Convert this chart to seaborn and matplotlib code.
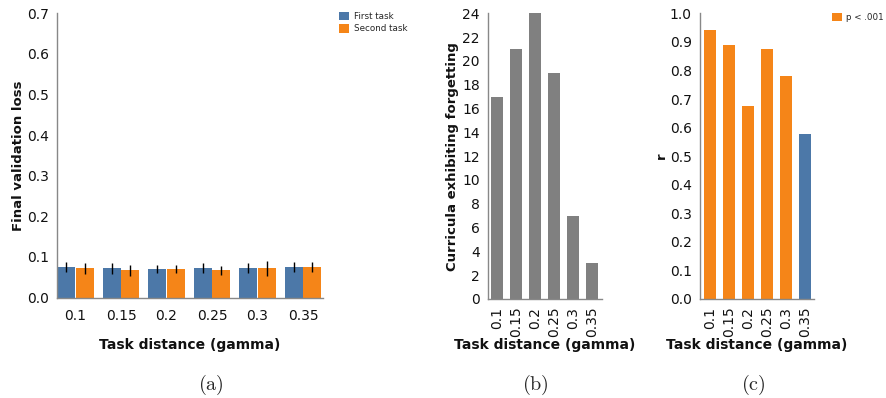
import numpy as np
import pandas as pd
import matplotlib
matplotlib.use("Agg")
import matplotlib.pyplot as plt
from matplotlib.patches import Patch
import seaborn as sns

# ---------------- data ----------------
gammas = ["0.1", "0.15", "0.2", "0.25", "0.3", "0.35"]
tasks = ["First task", "Second task"]
loss_first = [0.075, 0.072, 0.070, 0.072, 0.072, 0.075]
loss_second = [0.072, 0.067, 0.070, 0.067, 0.072, 0.075]
err_first = [0.013, 0.013, 0.009, 0.012, 0.012, 0.013]
err_second = [0.013, 0.014, 0.010, 0.011, 0.018, 0.013]
forgetting_counts = [17, 21, 24, 19, 7, 3]
r_values = [0.94, 0.89, 0.675, 0.875, 0.78, 0.578]
significance = ["p < .001", "p < .001", "p < .001", "p < .001", "p < .001", "n.s."]

BLUE = "#4c78a8"
ORANGE = "#f58518"
GRAY = "#808080"
AXC = "#888888"

sns.set_theme(style="white")
plt.rcParams["font.family"] = ["DejaVu Sans"]
plt.rcParams["mathtext.fontset"] = "cm"

W, H = 886, 398
fig = plt.figure(figsize=(W / 100, H / 100), dpi=100)


def fax(l, t, r, b):
    return fig.add_axes([l / W, 1 - b / H, (r - l) / W, (b - t) / H])


def style(ax):
    for s in ["top", "right"]:
        ax.spines[s].set_visible(False)
    for s in ["left", "bottom"]:
        ax.spines[s].set_color(AXC)
        ax.spines[s].set_linewidth(1.0)
    ax.tick_params(axis="y", length=4, width=1, color=AXC, pad=2, labelsize=10, labelcolor="#111111")
    ax.set_facecolor("white")


# ---------------- panel a ----------------
ax1 = fax(57, 13.3, 323, 297.5)
df_a = pd.DataFrame({
    "gamma": gammas * 2,
    "task": [tasks[0]] * 6 + [tasks[1]] * 6,
    "loss": loss_first + loss_second,
})
sns.barplot(data=df_a, x="gamma", y="loss", hue="task", order=gammas,
            hue_order=tasks, palette=[BLUE, ORANGE], saturation=1, width=0.82, gap=0.05,
            errorbar=None, ax=ax1, legend=False)
for cont, errs in zip(ax1.containers, [err_first, err_second]):
    for bar, e in zip(cont, errs):
        bar.set_edgecolor("none")
        xc = bar.get_x() + bar.get_width() / 2
        ax1.errorbar(xc, bar.get_height(), yerr=e, color="black", lw=1, capsize=0)
ax1.set_ylim(0, 0.7)
ax1.set_yticks(np.arange(0, 0.71, 0.1))
ax1.set_yticklabels([f"{v:.1f}" for v in np.arange(0, 0.71, 0.1)])
ax1.set_xlim(-0.407, 5.44)
style(ax1)
ax1.tick_params(axis="x", length=0, pad=8, labelsize=10, labelcolor="#111111")
ax1.set_ylabel("Final validation loss", fontsize=9.5, fontweight="bold", color="#111111")
ax1.yaxis.set_label_coords(-0.12, 0.5)
ax1.set_xlabel("Task distance (gamma)", fontsize=10, fontweight="bold", color="#111111", va="center")
ax1.xaxis.set_label_coords(0.5, -0.166)
handles = [Patch(facecolor=BLUE, edgecolor="none"), Patch(facecolor=ORANGE, edgecolor="none")]
fig.legend(handles, tasks, loc="upper left", bbox_to_anchor=(336 / W, 1 - 9 / H),
           frameon=False, fontsize=6.3, handlelength=1.15, handleheight=1.15,
           handletextpad=0.55, labelspacing=0.35, borderaxespad=0, borderpad=0.3)

# ---------------- panel b ----------------
ax2 = fax(488.3, 13.3, 601.7, 299)
df_b = pd.DataFrame({"gamma": gammas, "count": forgetting_counts})
sns.barplot(data=df_b, x="gamma", y="count", order=gammas, color=GRAY,
            saturation=1, width=0.63, ax=ax2)
for bar in ax2.patches:
    bar.set_edgecolor("none")
ax2.set_ylim(0, 24)
ax2.set_yticks(np.arange(0, 25, 2))
ax2.set_xlim(-0.46, 5.5)
style(ax2)
ax2.tick_params(axis="x", length=4, width=1, color=AXC, pad=1.5, labelsize=10,
                labelrotation=90, labelcolor="#111111")
ax2.set_ylabel("Curricula exhibiting forgetting", fontsize=9.5, fontweight="bold", color="#111111")
ax2.yaxis.set_label_coords(-0.258, 0.5)
ax2.set_xlabel("Task distance (gamma)", fontsize=10, fontweight="bold", color="#111111", va="center")
ax2.xaxis.set_label_coords(0.5, -0.162)

# ---------------- panel c ----------------
ax3 = fax(700, 13.3, 814, 299)
df_c = pd.DataFrame({"gamma": gammas, "r": r_values, "sig": significance})
sns.barplot(data=df_c, x="gamma", y="r", hue="sig", order=gammas,
            hue_order=["p < .001", "n.s."], palette=[ORANGE, BLUE], saturation=1,
            width=0.63, dodge=False, ax=ax3, legend=False)
for bar in ax3.patches:
    bar.set_edgecolor("none")
ax3.set_ylim(0, 1.0)
ax3.set_yticks(np.arange(0, 1.01, 0.1))
ax3.set_yticklabels([f"{v:.1f}" for v in np.arange(0, 1.01, 0.1)])
ax3.set_xlim(-0.53, 5.47)
style(ax3)
ax3.tick_params(axis="x", length=4, width=1, color=AXC, pad=1.5, labelsize=10,
                labelrotation=90, labelcolor="#111111")
ax3.set_ylabel("r", fontsize=9.5, fontweight="bold", color="#111111")
ax3.yaxis.set_label_coords(-0.28, 0.5)
ax3.set_xlabel("Task distance (gamma)", fontsize=10, fontweight="bold", color="#111111", va="center")
ax3.xaxis.set_label_coords(0.5, -0.162)
fig.legend([Patch(facecolor=ORANGE, edgecolor="none")], ["p < .001"], loc="upper left",
           bbox_to_anchor=(829 / W, 1 - 10 / H), frameon=False, fontsize=6.3,
           handlelength=1.15, handleheight=1.15, handletextpad=0.55, borderaxespad=0,
           borderpad=0.3)

# ---------------- captions ----------------
for x, lab in [(210.7, "(a)"), (535, "(b)"), (753, "(c)")]:
    fig.text(x / W, 1 - 385 / H, r"$\mathrm{" + lab + "}$", ha="center", va="center", fontsize=14.5)

fig.savefig("out.png", dpi=100, facecolor="white")
